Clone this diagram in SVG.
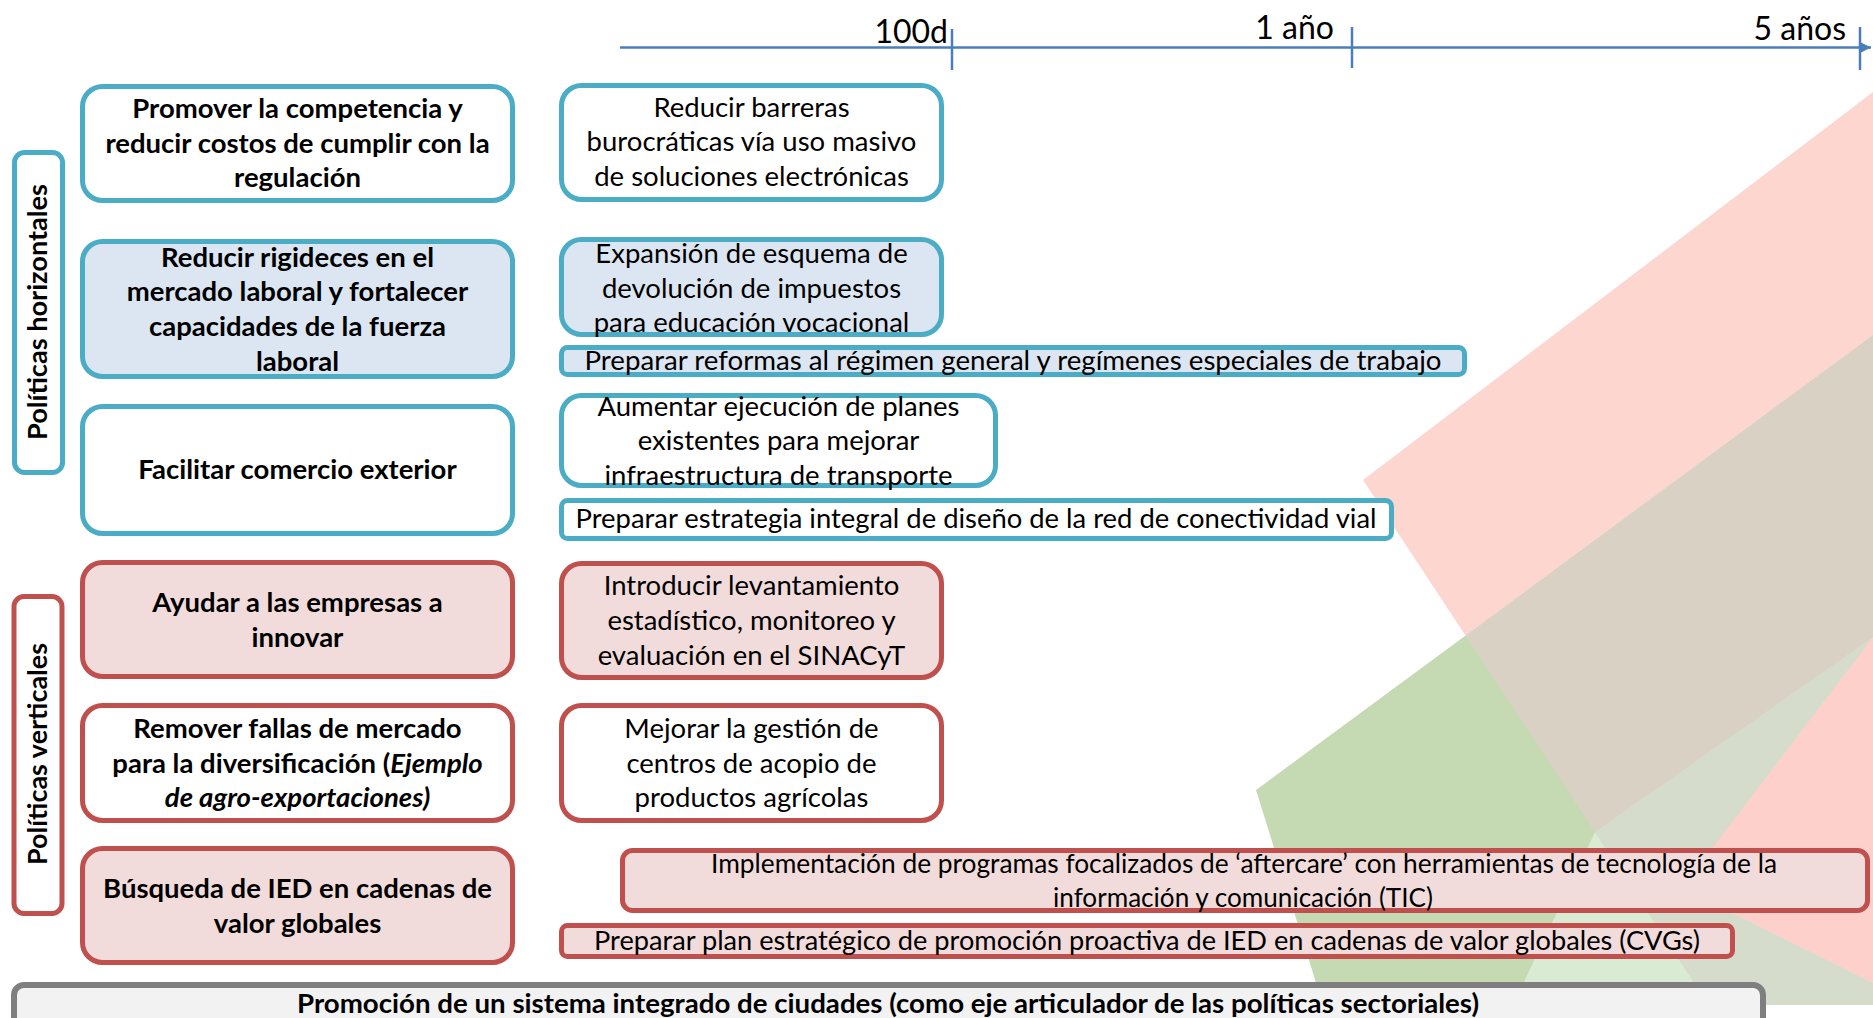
<svg xmlns="http://www.w3.org/2000/svg" width="1873" height="1018" viewBox="0 0 1873 1018">
<defs>
<style>
.t{font-family:Lato,"Liberation Sans",sans-serif;font-size:27.5px;fill:#000;text-anchor:middle}
.b{font-weight:bold}
.blue{stroke:#4BACC6;stroke-width:5}
.red{stroke:#C0504D;stroke-width:5}
.fw{fill:#FFFFFF}
.fb{fill:#DCE6F2}
.fp{fill:#F2DCDB}
.axis{stroke:#4A7EBB;stroke-width:2.5;fill:none}
.lab{font-family:Lato,"Liberation Sans",sans-serif;font-size:32px;fill:#000;text-anchor:end}
</style>
<marker id="arr" viewBox="0 0 10 10" refX="10" refY="5" markerWidth="5" markerHeight="5" orient="auto" markerUnits="strokeWidth">
<path d="M0,0 L10,5 L0,10 z" fill="#4A7EBB"/>
</marker>
</defs>
<rect x="0" y="0" width="1873" height="1018" fill="#FFFFFF"/>
<g id="background">
<polygon points="1256,790 1873,335 1873,1005 1323,1005" fill="#C5D9B3"/>
<polygon points="1363,480 1873,92 1873,335 1465.5,635.4" fill="#FCD6CF"/>
<polygon points="1465.5,635.4 1873,335 1873,1005 1709,1005" fill="#D9D2C4"/>
<polygon points="1595,832 1709,1005 1513,1005" fill="#D9EBD2"/>
<polygon points="1595,832 1873,637 1873,1005 1709,1005" fill="#D6DCCB"/>
<polygon points="1873,637 1682,888 1873,983" fill="#FED0CC"/>
</g>
<g id="timeline">
<line class="axis" x1="620" y1="47.5" x2="1871" y2="47.5" marker-end="url(#arr)"/>
<line class="axis" x1="952" y1="29" x2="952" y2="70"/>
<line class="axis" x1="1352" y1="27" x2="1352" y2="68"/>
<line class="axis" x1="1860" y1="27" x2="1860" y2="70"/>
<text class="lab" x="948" y="43">100d</text>
<text class="lab" x="1334" y="39">1 año</text>
<text class="lab" x="1846" y="40">5 años</text>
</g>
<g id="connectors"></g>
<g id="side-horizontales">
<rect class="blue fw" x="14.5" y="152.5" width="48" height="320" rx="10"/>
<text class="t b" transform="translate(47,312) rotate(-90)" textLength="256" lengthAdjust="spacingAndGlyphs">Políticas horizontales</text>
</g>
<g id="side-verticales">
<rect class="red fw" x="14" y="596.5" width="48" height="317" rx="10"/>
<text class="t b" transform="translate(47,754) rotate(-90)" textLength="222" lengthAdjust="spacingAndGlyphs">Políticas verticales</text>
</g>
<g id="L1">
<rect class="blue fw" x="82.5" y="86.5" width="430" height="114" rx="20"/>
<text class="t b" x="297.5"><tspan x="297.5" y="118">Promover la competencia y</tspan><tspan x="297.5" y="152.5">reducir costos de cumplir con la</tspan><tspan x="297.5" y="187">regulación</tspan></text>
</g>
<g id="L2">
<rect class="blue fb" x="82.5" y="241.5" width="430" height="135" rx="20"/>
<text class="t b"><tspan x="297.5" y="266.5">Reducir rigideces en el</tspan><tspan x="297.5" y="301">mercado laboral y fortalecer</tspan><tspan x="297.5" y="336">capacidades de la fuerza</tspan><tspan x="297.5" y="371">laboral</tspan></text>
</g>
<g id="L3">
<rect class="blue fw" x="82.5" y="406.5" width="430" height="127" rx="20"/>
<text class="t b" x="297.5" y="479">Facilitar comercio exterior</text>
</g>
<g id="L4">
<rect class="red fp" x="82.5" y="562.5" width="430" height="114" rx="20"/>
<text class="t b"><tspan x="297.5" y="611.5">Ayudar a las empresas a</tspan><tspan x="297.5" y="646.5">innovar</tspan></text>
</g>
<g id="L5">
<rect class="red fw" x="82.5" y="705.5" width="430" height="115" rx="20"/>
<text class="t b"><tspan x="297.5" y="737.5">Remover fallas de mercado</tspan><tspan x="297.5" y="772.5">para la diversificación (<tspan font-style="italic">Ejemplo</tspan></tspan><tspan x="297.5" y="807" font-style="italic">de agro-exportaciones)</tspan></text>
</g>
<g id="L6">
<rect class="red fp" x="82.5" y="848.5" width="430" height="114" rx="20"/>
<text class="t b"><tspan x="297.5" y="897.5">Búsqueda de IED en cadenas de</tspan><tspan x="297.5" y="932.5">valor globales</tspan></text>
</g>
<g id="R1">
<rect class="blue fw" x="561.5" y="85.5" width="380" height="114" rx="20"/>
<text class="t"><tspan x="751.5" y="116.5">Reducir barreras</tspan><tspan x="751.5" y="151">burocráticas vía uso masivo</tspan><tspan x="751.5" y="185.5">de soluciones electrónicas</tspan></text>
</g>
<g id="R2">
<rect class="blue fb" x="561.5" y="239.5" width="380" height="95" rx="20"/>
<text class="t"><tspan x="751.5" y="263">Expansión de esquema de</tspan><tspan x="751.5" y="297.5">devolución de impuestos</tspan><tspan x="751.5" y="332">para educación vocacional</tspan></text>
</g>
<g id="B1">
<rect class="blue fb" x="561.5" y="347.5" width="903" height="27" rx="6"/>
<text class="t" x="1013" y="370" textLength="857" lengthAdjust="spacingAndGlyphs">Preparar reformas al régimen general y regímenes especiales de trabajo</text>
</g>
<g id="R3">
<rect class="blue fw" x="561.5" y="395.5" width="434" height="90" rx="20"/>
<text class="t"><tspan x="778.5" y="415.5">Aumentar ejecución de planes</tspan><tspan x="778.5" y="450">existentes para mejorar</tspan><tspan x="778.5" y="485">infraestructura de transporte</tspan></text>
</g>
<g id="B2">
<rect class="blue fw" x="561.5" y="500.5" width="830" height="38" rx="6"/>
<text class="t" x="976" y="528" textLength="801" lengthAdjust="spacingAndGlyphs">Preparar estrategia integral de diseño de la red de conectividad vial</text>
</g>
<g id="R4">
<rect class="red fp" x="561.5" y="563.5" width="380" height="114" rx="20"/>
<text class="t"><tspan x="751.5" y="595">Introducir levantamiento</tspan><tspan x="751.5" y="630">estadístico, monitoreo y</tspan><tspan x="751.5" y="665">evaluación en el SINACyT</tspan></text>
</g>
<g id="R5">
<rect class="red fw" x="561.5" y="705.5" width="380" height="115" rx="20"/>
<text class="t"><tspan x="751.5" y="737.5">Mejorar la gestión de</tspan><tspan x="751.5" y="772.5">centros de acopio de</tspan><tspan x="751.5" y="807">productos agrícolas</tspan></text>
</g>
<g id="R6">
<rect class="red fp" x="622.5" y="850.5" width="1245" height="60" rx="10"/>
<text class="t"><tspan x="1244" y="873" textLength="1066" lengthAdjust="spacingAndGlyphs">Implementación de programas focalizados de ‘aftercare’ con herramientas de tecnología de la</tspan><tspan x="1243" y="907" textLength="380" lengthAdjust="spacingAndGlyphs">información y comunicación (TIC)</tspan></text>
</g>
<g id="B3">
<rect class="red fp" x="561.5" y="925.5" width="1171" height="31" rx="6"/>
<text class="t" x="1147" y="950" textLength="1106" lengthAdjust="spacingAndGlyphs">Preparar plan estratégico de promoción proactiva de IED en cadenas de valor globales (CVGs)</text>
</g>
<g id="bottom">
<rect x="14" y="985" width="1749" height="60" rx="10" fill="#F2F2F2" stroke="#7F7F7F" stroke-width="6"/>
<text class="t b" x="888" y="1013" textLength="1182" lengthAdjust="spacingAndGlyphs">Promoción de un sistema integrado de ciudades (como eje articulador de las políticas sectoriales)</text>
</g>
</svg>
